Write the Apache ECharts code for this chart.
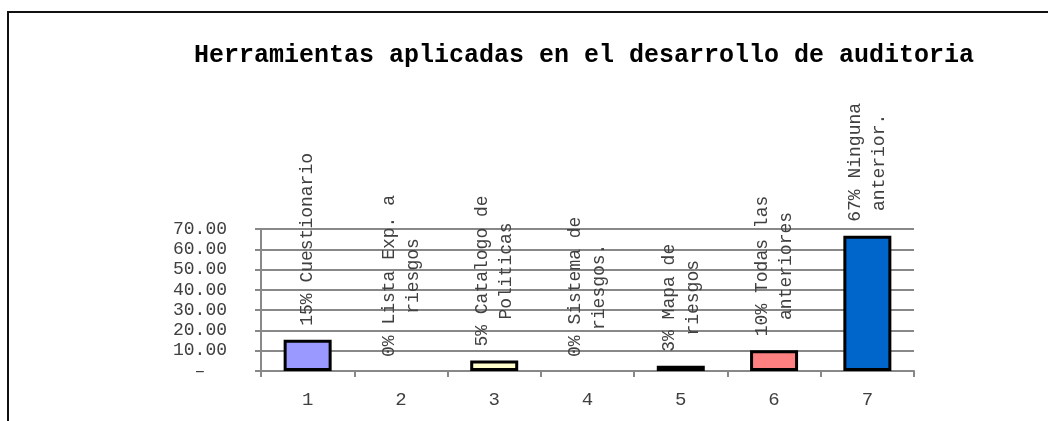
<!DOCTYPE html>
<html>
<head>
<meta charset="utf-8">
<script src="https://cdn.jsdelivr.net/npm/echarts@6/dist/echarts.min.js"></script>
<style>
  html, body { margin: 0; padding: 0; background: #fff; }
  #chart { width: 1048px; height: 421px; }
</style>
</head>
<body>
<div id="chart"></div>
<script>
// datos del grafico
const categories = ["1", "2", "3", "4", "5", "6", "7"];
const values = [15.38, 0, 5.13, 0, 2.56, 10.26, 66.67];
const barColors = ["#9999FF", "#9999FF", "#FFFFCC", "#FFFFCC", "#660066", "#FF8080", "#0066CC"];
const barLabels = [
  ["15% Cuestionario"],
  ["0% Lista Exp. a", "riesgos"],
  ["5% Catalogo de", "Politicas"],
  ["0% Sistema de", "riesgos."],
  ["3% Mapa de", "riesgos"],
  ["10% Todas las", "anteriores"],
  ["67% Ninguna", "anterior."],
];
const yTicks = [0, 10, 20, 30, 40, 50, 60, 70];

const font = "Liberation Mono";
const chart = echarts.init(document.getElementById("chart"));

const option = {
  animation: false,
  backgroundColor: "#fff",
  title: {
    text: "Herramientas aplicadas en el desarrollo de auditoria",
    left: 579,
    textAlign: "center",
    top: 38,
    textStyle: {
      fontFamily: font,
      fontWeight: "bold",
      fontSize: 25,
      color: "#000",
    },
  },
  // marco del grafico
  graphic: [
    {
      type: "rect",
      shape: { x: 8, y: 12, width: 1200, height: 600 },
      style: { fill: "none", stroke: "#111", lineWidth: 2 },
      z: 0,
    },
  ],
  grid: { left: 261, right: 134, top: 229, bottom: 50 },
  xAxis: {
    type: "category",
    data: categories,
    axisLine: { lineStyle: { color: "#888", width: 2 } },
    axisTick: { show: true, length: 6, lineStyle: { color: "#888", width: 2 } },
    axisLabel: { fontFamily: font, fontSize: 19, color: "#404040", margin: 19 },
  },
  yAxis: {
    type: "value",
    min: yTicks[0],
    max: yTicks[yTicks.length - 1],
    interval: 10,
    axisLine: { show: true, lineStyle: { color: "#888", width: 2 } },
    axisTick: { show: true, length: 6, lineStyle: { color: "#888", width: 2 } },
    splitLine: { show: true, lineStyle: { color: "#888", width: 2 } },
    axisLabel: {
      fontFamily: font,
      fontSize: 18,
      color: "#404040",
      margin: 34,
      formatter: (v) => (v === 0 ? "–  " : v.toFixed(2)),
    },
  },
  series: [
    {
      type: "bar",
      barWidth: 48,
      data: values.map((v, i) => ({
        value: v,
        itemStyle: {
          color: barColors[i],
          borderColor: "#000",
          borderWidth: v > 0 ? 3 : 0,
        },
        label: {
          formatter: barLabels[i].map((l) => "{c|" + l + "}").join("\n"),
        },
      })),
      label: {
        show: true,
        position: "top",
        rotate: 90,
        align: "left",
        verticalAlign: "middle",
        distance: 14,
        rich: {
          c: {
            align: "center",
            fontFamily: font,
            fontSize: 18,
            lineHeight: 24,
            color: "#404040",
          },
        },
      },
    },
  ],
};

chart.setOption(option);
</script>
</body>
</html>
